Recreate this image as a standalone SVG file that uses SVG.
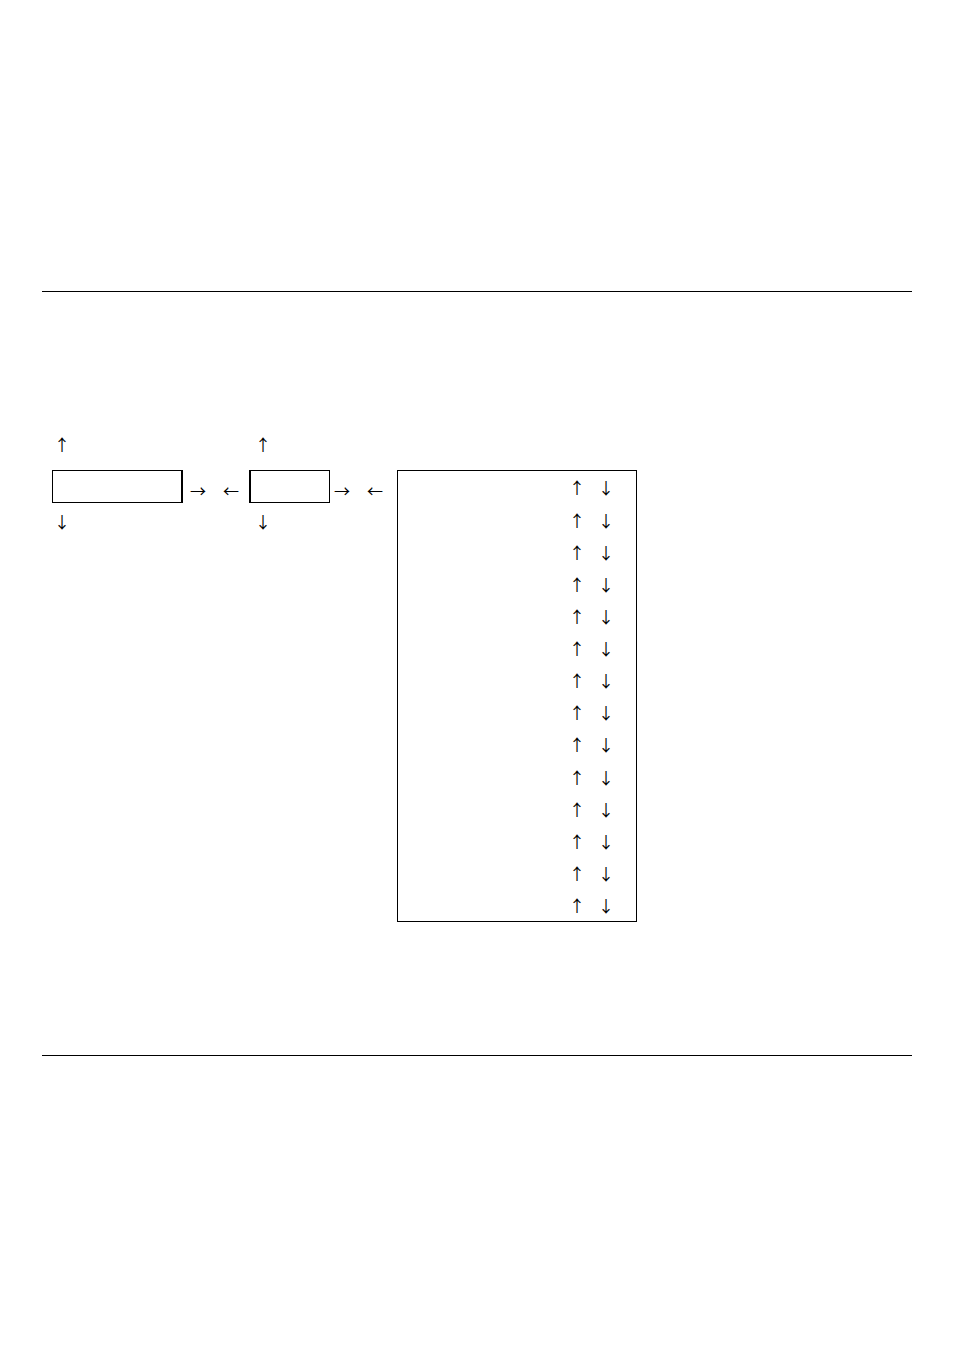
<svg xmlns="http://www.w3.org/2000/svg" width="954" height="1351" viewBox="0 0 954 1351">
<style>
.t{font-family:"Noto Sans CJK JP","DejaVu Sans",sans-serif;font-size:16px;fill:#000;text-anchor:middle}
.b{fill:#fff;stroke:#000;stroke-width:1}
.r{stroke:#000;stroke-width:1}
</style>
<rect width="954" height="1351" fill="#fff"/>
<g id="rules">
<line class="r" x1="42" y1="291.5" x2="912" y2="291.5"/>
<line class="r" x1="42" y1="1055.5" x2="912" y2="1055.5"/>
</g>
<g id="node1">
<rect class="b" x="52.5" y="470.5" width="129.5" height="32"/>
<line x1="182" y1="470" x2="182" y2="503" stroke="#000" stroke-width="2"/>
</g>
<g id="node2">
<rect class="b" x="249.5" y="470.5" width="80" height="32"/>
<line x1="250" y1="470" x2="250" y2="503" stroke="#000" stroke-width="2"/>
</g>
<g id="node3">
<rect class="b" x="397.5" y="470.5" width="239" height="451"/>
</g>
<g id="connectors" opacity="0.999">
<text class="t" x="62" y="451">↑</text>
<text class="t" x="62" y="528">↓</text>
<text class="t" x="198" y="497">→</text>
<text class="t" x="231" y="497">←</text>
<text class="t" x="263" y="451">↑</text>
<text class="t" x="263" y="528">↓</text>
<text class="t" x="342" y="497">→</text>
<text class="t" x="375" y="497">←</text>
<text class="t" x="577" y="494">↑</text><text class="t" x="606" y="494">↓</text>
<text class="t" x="577" y="527">↑</text><text class="t" x="606" y="527">↓</text>
<text class="t" x="577" y="559">↑</text><text class="t" x="606" y="559">↓</text>
<text class="t" x="577" y="591">↑</text><text class="t" x="606" y="591">↓</text>
<text class="t" x="577" y="623">↑</text><text class="t" x="606" y="623">↓</text>
<text class="t" x="577" y="655">↑</text><text class="t" x="606" y="655">↓</text>
<text class="t" x="577" y="687">↑</text><text class="t" x="606" y="687">↓</text>
<text class="t" x="577" y="719">↑</text><text class="t" x="606" y="719">↓</text>
<text class="t" x="577" y="751">↑</text><text class="t" x="606" y="751">↓</text>
<text class="t" x="577" y="784">↑</text><text class="t" x="606" y="784">↓</text>
<text class="t" x="577" y="816">↑</text><text class="t" x="606" y="816">↓</text>
<text class="t" x="577" y="848">↑</text><text class="t" x="606" y="848">↓</text>
<text class="t" x="577" y="880">↑</text><text class="t" x="606" y="880">↓</text>
<text class="t" x="577" y="912">↑</text><text class="t" x="606" y="912">↓</text>
</g>
</svg>
